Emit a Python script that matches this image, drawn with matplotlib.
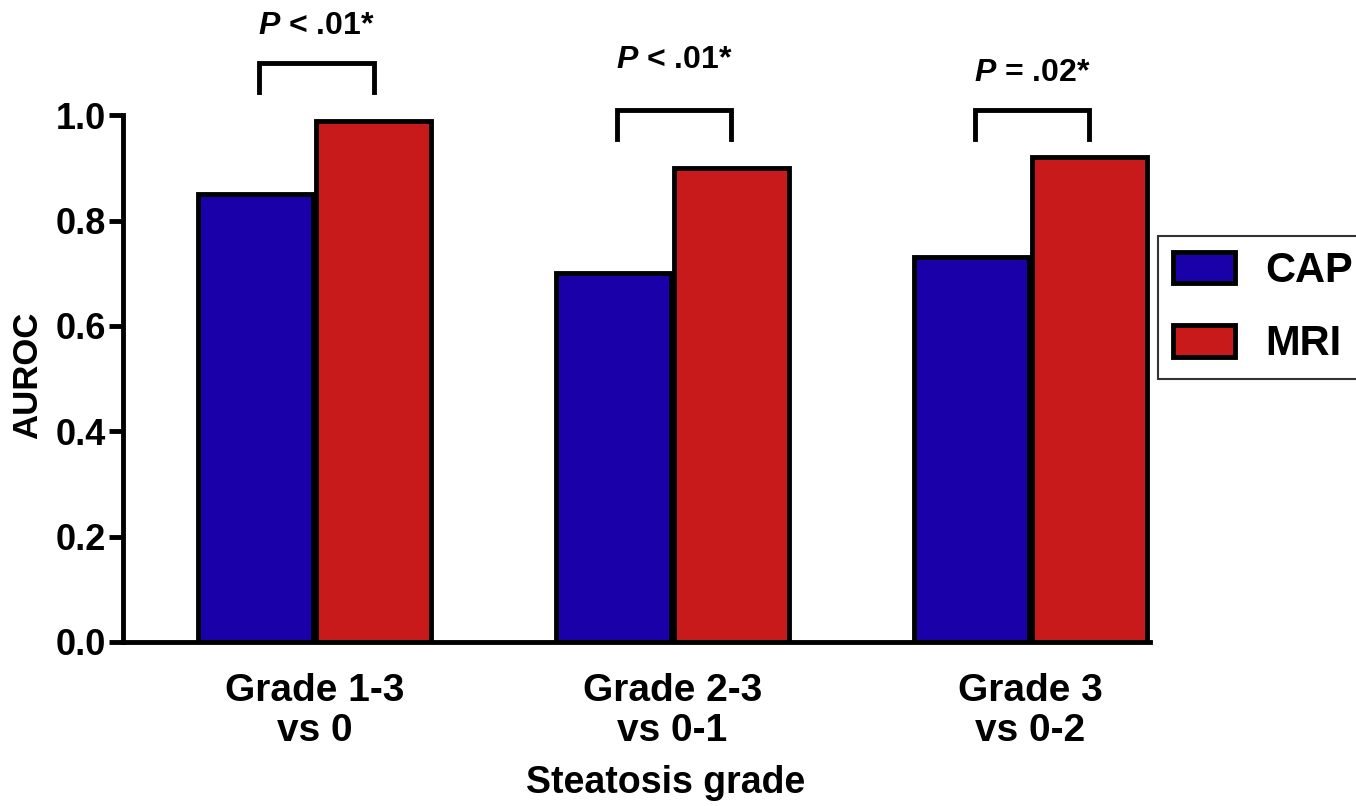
import matplotlib
matplotlib.use("Agg")
import matplotlib.pyplot as plt
import numpy as np

plt.rcParams['font.family'] = ['Liberation Sans', 'DejaVu Sans']
plt.rcParams['font.weight'] = 'bold'
plt.rcParams['mathtext.fontset'] = 'custom'
plt.rcParams['mathtext.it'] = 'Liberation Sans:italic:bold'
plt.rcParams['mathtext.rm'] = 'Liberation Sans:bold'

groups = ['Grade 1-3\nvs 0', 'Grade 2-3\nvs 0-1', 'Grade 3\nvs 0-2']
cap = [0.85, 0.70, 0.73]
mri = [0.99, 0.90, 0.92]
p_labels = ['$P$ < .01*', '$P$ < .01*', '$P$ = .02*']
bracket_top = [1.10, 1.01, 1.01]
bracket_drop = 0.055
label_y = [1.17, 1.105, 1.08]

blue = '#1a00a8'
red = '#c8191b'

fig = plt.figure(figsize=(13.56, 8.06), dpi=100)
ax = fig.add_axes([0.0907, 0.2035, 0.7573, 0.6535])

x = np.arange(len(groups))
w = 0.32
off = 0.165
ax.bar(x - off, cap, w, color=blue, edgecolor='black', linewidth=3.5, label='CAP')
ax.bar(x + off, mri, w, color=red, edgecolor='black', linewidth=3.5, label='MRI')

# significance brackets
for i in range(len(groups)):
    x0, x1 = x[i] - off + 0.01, x[i] + off
    t = bracket_top[i]
    ax.plot([x0, x0, x1, x1], [t - bracket_drop, t, t, t - bracket_drop],
            color='black', lw=3.5, clip_on=False, solid_joinstyle='miter')
    ax.text((x0 + x1) / 2, label_y[i], p_labels[i], ha='center', va='center',
            fontsize=23, fontweight='bold', clip_on=False)

ax.set_xlim(-0.535, 2.334)
ax.set_ylim(0, 1.0)
ax.set_yticks(np.arange(0, 1.01, 0.2))
ax.set_yticklabels(['%.1f' % v for v in np.arange(0, 1.01, 0.2)])
ax.set_xticks(x)
ax.set_xticklabels(groups, fontsize=28, fontweight='bold', linespacing=1.15)
ax.tick_params(axis='x', length=0, pad=22)
ax.tick_params(axis='y', labelsize=26, width=3.5, length=10, pad=2)
for s in ['top', 'right']:
    ax.spines[s].set_visible(False)
for s in ['left', 'bottom']:
    ax.spines[s].set_linewidth(3.5)

ax.set_ylabel('AUROC', fontsize=25, fontweight='bold', va='center')
ax.yaxis.set_label_coords(-0.0925, 0.507)
ax.set_xlabel('Steatosis grade', fontsize=27, fontweight='bold', va='center')
ax.xaxis.set_label_coords(0.528, -0.268)

leg = fig.legend(loc='upper left', bbox_to_anchor=(1158 / 1356, 1 - 236 / 806),
                 fontsize=30, frameon=True, fancybox=False, edgecolor='black',
                 handlelength=1.49, handleheight=0.8, labelspacing=0.8,
                 handletextpad=0.72, borderpad=0.36, borderaxespad=0)
leg.get_frame().set_linewidth(1.5)
for h in leg.legend_handles:
    h.set_linewidth(3.5)

fig.savefig('out.png', dpi=100, facecolor='white')
